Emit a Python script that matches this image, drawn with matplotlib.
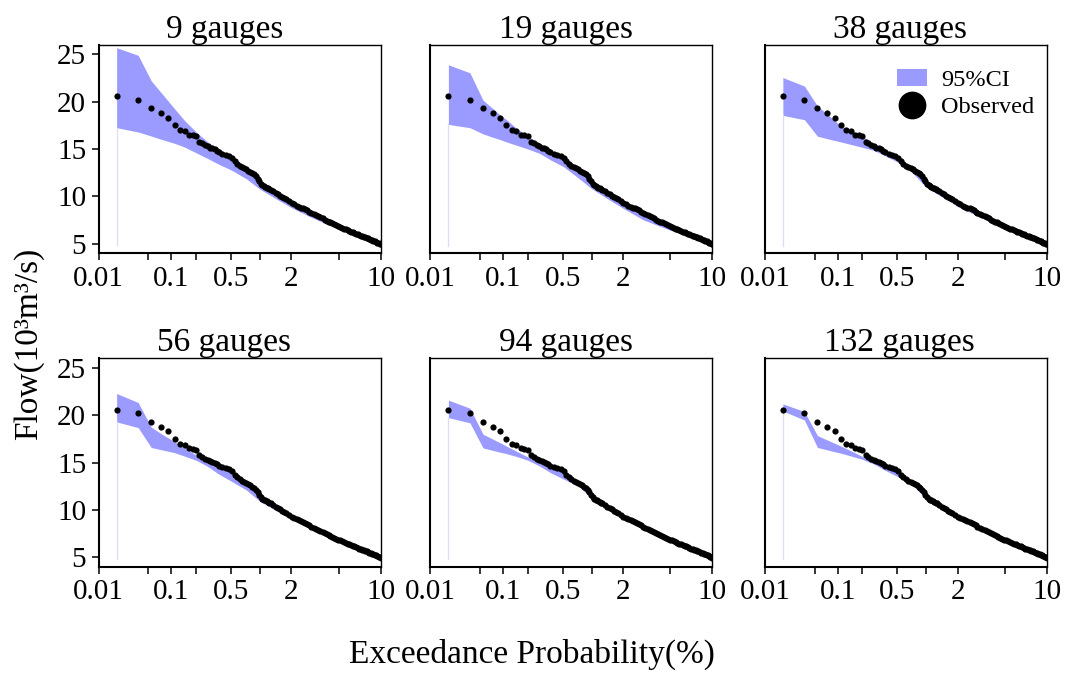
import numpy as np
import matplotlib
matplotlib.use("Agg")
import matplotlib.pyplot as plt
from matplotlib.patches import Patch
from matplotlib.lines import Line2D
from statistics import NormalDist

plt.rcParams["font.family"] = ["Liberation Serif", "DejaVu Serif"]

# ---- data -------------------------------------------------------------
n_records = 5479                      # daily records in the observed series
panel_titles = ["9 gauges", "19 gauges", "38 gauges",
                "56 gauges", "94 gauges", "132 gauges"]

obs_rank = [1, 2, 3, 4, 5, 6, 7, 8, 9, 10, 11,
            12, 13, 14, 15, 16, 17, 18, 19, 20, 22, 24, 26, 28, 30, 32, 34, 36, 38, 40,
            42, 44, 46, 48, 50, 52, 54, 56, 58, 60, 62, 64, 66, 68, 70,
            74, 78, 82, 86, 90, 94, 98, 104, 110, 116, 122, 128, 134, 140, 146, 152,
            158, 164, 172, 180, 188, 196, 204, 212, 220, 228, 236, 244, 252, 260,
            270, 280, 290, 300, 310, 320, 330, 340, 350, 360, 370, 380, 390, 400,
            410, 420, 430, 440, 450, 460, 470, 480, 490, 500, 510, 520, 530, 540, 548]
obs_flow = [20.6, 20.2, 19.3, 18.8, 18.3, 17.5, 17.0, 16.9, 16.5, 16.45, 16.35,
            15.78, 15.6, 15.43, 15.28, 15.15, 15.06, 14.96, 14.81, 14.67, 14.51, 14.4,
            14.3, 14.07, 13.72, 13.43, 13.25, 13.1, 12.98, 12.87,
            12.72, 12.59, 12.46, 12.32, 12.15, 11.86, 11.6, 11.33, 11.2, 11.1, 11.0,
            10.92, 10.85, 10.78, 10.72,
            10.55, 10.36, 10.2, 10.06, 9.93, 9.82, 9.7, 9.48, 9.28, 9.15, 9.03, 8.92,
            8.82, 8.72, 8.63, 8.52, 8.38, 8.25, 8.12, 8.0, 7.9, 7.78, 7.67, 7.55,
            7.43, 7.33, 7.24, 7.14, 7.06, 6.97,
            6.86, 6.78, 6.69, 6.6, 6.5, 6.42, 6.35, 6.28, 6.2, 6.14, 6.07, 6.0, 5.92,
            5.85, 5.78, 5.72, 5.66, 5.61, 5.55, 5.48, 5.42, 5.37, 5.31, 5.25, 5.19,
            5.12, 5.05, 4.98, 4.92]

ci_rank = [1, 2, 3, 4, 5, 6, 8, 11, 15, 20, 28, 40, 55, 80, 112, 166, 270, 400, 548]
ci_upper = [
    [25.7, 24.9, 22.2, 21.0, 20.05, 19.25, 18.0, 16.8, 15.75, 14.9, 14.3, 13.05, 11.7, 10.4, 9.35, 8.3, 6.92, 5.9, 4.95],
    [23.9, 23.05, 20.15, 19.3, 18.6, 18.1, 17.2, 16.35, 15.55, 14.85, 14.25, 13.0, 11.65, 10.38, 9.32, 8.28, 6.9, 5.88, 4.95],
    [22.55, 21.65, 19.55, 18.7, 18.0, 17.45, 16.95, 16.35, 15.5, 14.8, 14.2, 12.95, 11.6, 10.35, 9.3, 8.27, 6.9, 5.88, 4.94],
    [22.3, 21.35, 18.75, 18.08, 17.6, 17.2, 16.55, 15.8, 15.3, 14.75, 14.15, 12.95, 11.55, 10.35, 9.28, 8.25, 6.88, 5.86, 4.94],
    [21.6, 20.75, 18.0, 17.5, 17.1, 16.75, 16.2, 15.6, 15.25, 14.7, 14.1, 12.9, 11.5, 10.33, 9.27, 8.25, 6.87, 5.85, 4.92],
    [21.2, 20.4, 17.85, 17.4, 17.05, 16.75, 16.25, 15.65, 15.25, 14.7, 14.1, 12.9, 11.5, 10.33, 9.27, 8.25, 6.87, 5.85, 4.92],
]
ci_lower = [
    [17.25, 16.8, 16.37, 16.04, 15.8, 15.6, 15.2, 14.6, 14.0, 13.4, 12.75, 11.85, 10.75, 9.7, 8.75, 7.75, 6.55, 5.65, 4.85],
    [17.6, 17.25, 16.6, 16.25, 16.0, 15.75, 15.4, 15.0, 14.55, 13.86, 13.13, 11.95, 10.8, 9.68, 8.67, 7.5, 6.45, 5.55, 4.78],
    [18.55, 18.1, 16.35, 16.1, 15.9, 15.75, 15.48, 15.18, 14.85, 14.3, 13.6, 12.45, 10.95, 9.9, 8.9, 7.9, 6.6, 5.6, 4.8],
    [19.3, 18.7, 16.6, 16.37, 16.2, 16.05, 15.68, 15.25, 14.6, 13.8, 13.0, 12.1, 10.9, 9.9, 9.0, 7.95, 6.65, 5.65, 4.82],
    [19.75, 19.2, 16.55, 16.3, 16.1, 15.95, 15.65, 15.25, 14.65, 13.95, 13.25, 12.55, 11.2, 10.05, 9.05, 8.05, 6.75, 5.75, 4.85],
    [20.45, 19.5, 16.6, 16.35, 16.15, 16.0, 15.7, 15.35, 14.85, 14.2, 13.5, 12.6, 11.2, 10.1, 9.1, 8.1, 6.75, 5.75, 4.85],
]

x_ticks = [0.01, 0.05, 0.1, 0.2, 0.5, 1, 2, 5, 10]
x_ticklabels = ["0.01", "", "0.1", "", "0.5", "", "2", "", "10"]
y_ticks = [5, 10, 15, 20, 25]

band_color = "#9b9bff"
spike_color = "#dcdcf6"

# ---- normal-probability axis ---------------------------------------------
_nd = NormalDist()
_ppf = np.vectorize(_nd.inv_cdf, otypes=[float])
_cdf = np.vectorize(_nd.cdf, otypes=[float])


def prob_forward(p):
    p = np.clip(np.asarray(p, dtype=float) / 100.0, 1e-12, 1 - 1e-12)
    return _ppf(p)


def prob_inverse(z):
    return _cdf(np.asarray(z, dtype=float)) * 100.0


# Weibull plotting positions, in percent
obs_p = np.array(obs_rank) / (n_records + 1) * 100.0
ci_p = np.array(ci_rank) / (n_records + 1) * 100.0

# ---- figure ------------------------------------------------------------
fig = plt.figure(figsize=(10.73, 6.75), dpi=100)

lefts = [0.092, 0.4012, 0.7129]
bottoms = [0.625, 0.1604]
width, height = 0.2628, 0.3085
title_x = [0.445, 0.48, 0.478]

for k, title in enumerate(panel_titles):
    row, col = divmod(k, 3)
    ax = fig.add_axes([lefts[col], bottoms[row], width, height])
    ax.set_xscale("function", functions=(prob_forward, prob_inverse))

    ax.fill_between(ci_p, ci_lower[k], ci_upper[k], color=band_color,
                    linewidth=0, zorder=1)
    ax.plot([ci_p[0], ci_p[0]], [min(ci_lower[k]), ci_lower[k][0]],
            color=spike_color, linewidth=0.9, zorder=1)
    ax.scatter(obs_p, obs_flow, s=20, color="black", linewidths=0, zorder=3)

    ax.set_xlim(0.01, 10)
    ax.set_ylim(4, 26)
    ax.set_xticks(x_ticks)
    ax.set_xticklabels(x_ticklabels)
    ax.xaxis.set_minor_locator(matplotlib.ticker.NullLocator())
    if col == 0:
        ax.set_yticks(y_ticks)
    else:
        ax.set_yticks([])
    ax.tick_params(axis="both", direction="out", length=5, width=1.1,
                   labelsize=21, pad=4)
    for side in ("left", "bottom"):
        ax.spines[side].set_linewidth(1.5)
    for side in ("top", "right"):
        ax.spines[side].set_linewidth(1.0)
    ax.set_title(title, fontsize=24, pad=4, x=title_x[col])

    if k == 2:
        handles = [Patch(facecolor=band_color, edgecolor="none", label="95%CI"),
                   Line2D([], [], marker="o", linestyle="", color="black",
                          markersize=19, label="Observed")]
        ax.legend(handles=handles, loc="upper right", frameon=False,
                  bbox_to_anchor=(0.955, 0.885), borderaxespad=0, borderpad=0,
                  fontsize=17.5, handlelength=1.2, handletextpad=0.6,
                  labelspacing=0.22)

fig.text(0.496, 0.03, "Exceedance Probability(%)", ha="center", va="center",
         fontsize=24)
fig.text(0.027, 0.49, "Flow(10³m³/s)", ha="center", va="center",
         rotation=90, fontsize=24)

fig.savefig("out.png", dpi=100)
